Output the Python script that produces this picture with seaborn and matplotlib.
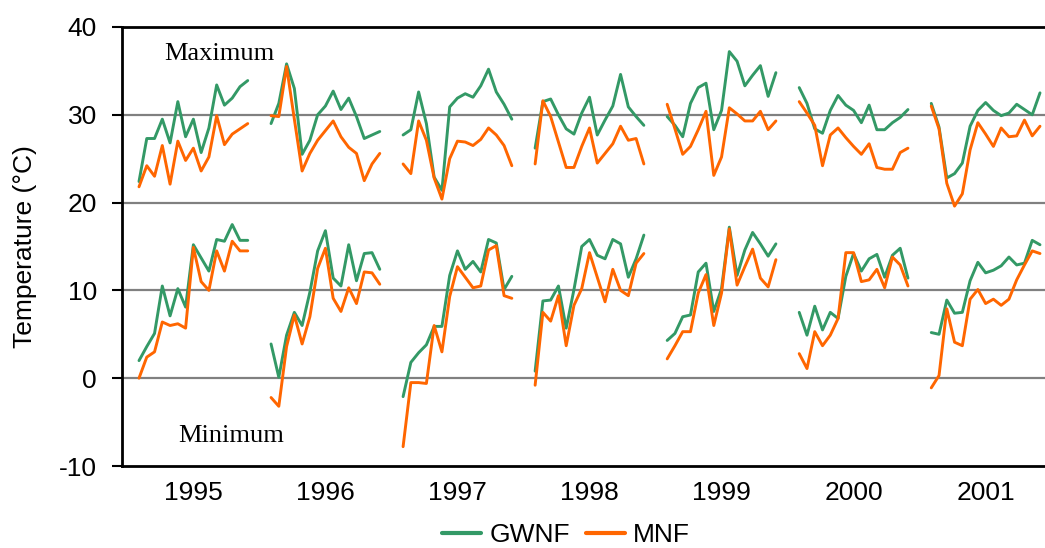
import numpy as np
import pandas as pd
import matplotlib
matplotlib.use("Agg")
import matplotlib.pyplot as plt
import seaborn as sns
from matplotlib.lines import Line2D

years = ["1995", "1996", "1997", "1998", "1999", "2000", "2001"]
sites = ["GWNF", "MNF"]

gwnf_max = [
    [22.4, 27.3, 27.3, 29.5, 26.8, 31.5, 27.5, 29.5, 25.7, 28.5, 33.4, 31.1, 31.9, 33.2, 33.9],
    [29.0, 31.3, 35.8, 33.0, 25.5, 27.1, 30.0, 31.0, 32.7, 30.6, 31.9, 29.8, 27.3, 27.7, 28.1],
    [27.7, 28.3, 32.6, 29.0, 22.9, 21.4, 30.9, 31.9, 32.4, 32.0, 33.3, 35.2, 32.6, 31.2, 29.5],
    [26.2, 31.5, 31.8, 30.0, 28.4, 27.8, 30.2, 32.0, 27.7, 29.4, 31.0, 34.6, 30.9, 29.8, 28.8],
    [29.8, 28.8, 27.5, 31.3, 33.1, 33.6, 28.3, 30.5, 37.2, 36.1, 33.3, 34.5, 35.6, 32.1, 34.8],
    [33.1, 31.3, 28.4, 27.9, 30.5, 32.2, 31.1, 30.5, 29.1, 31.1, 28.3, 28.3, 29.1, 29.7, 30.6],
    [31.3, 28.6, 22.8, 23.3, 24.5, 28.7, 30.5, 31.4, 30.5, 29.9, 30.2, 31.2, 30.6, 30.0, 32.5],
]
mnf_max = [
    [21.8, 24.2, 23.0, 26.5, 22.1, 27.0, 24.8, 26.2, 23.6, 25.2, 29.9, 26.6, 27.8, 28.4, 29.0],
    [29.9, 29.8, 35.5, 29.5, 23.6, 25.6, 27.1, 28.2, 29.3, 27.5, 26.3, 25.6, 22.5, 24.4, 25.6],
    [24.4, 23.3, 29.3, 27.1, 22.8, 20.4, 25.0, 27.0, 26.9, 26.5, 27.2, 28.5, 27.7, 26.5, 24.2],
    [24.4, 31.6, 29.8, 26.9, 24.0, 24.0, 26.4, 28.5, 24.5, 25.6, 26.7, 28.7, 27.1, 27.3, 24.4],
    [31.2, 28.4, 25.5, 26.4, 28.3, 30.4, 23.1, 25.2, 30.8, 30.1, 29.3, 29.3, 30.4, 28.3, 29.3],
    [31.5, 30.2, 28.8, 24.2, 27.7, 28.5, 27.4, 26.4, 25.5, 26.7, 24.0, 23.8, 23.8, 25.7, 26.2],
    [31.0, 28.4, 22.2, 19.6, 21.0, 26.0, 29.1, 27.8, 26.4, 28.5, 27.5, 27.6, 29.4, 27.6, 28.7],
]
gwnf_min = [
    [2.0, 3.6, 5.1, 10.5, 7.1, 10.2, 8.1, 15.2, 13.7, 12.2, 15.8, 15.6, 17.5, 15.7, 15.7],
    [3.9, 0.1, 4.9, 7.5, 6.0, 9.8, 14.5, 16.8, 11.4, 10.5, 15.2, 11.1, 14.2, 14.3, 12.4],
    [-2.1, 1.8, 2.9, 3.8, 5.9, 5.9, 11.7, 14.5, 12.4, 13.3, 12.1, 15.8, 15.4, 10.1, 11.6],
    [0.8, 8.8, 8.9, 10.5, 5.7, 10.1, 15.0, 15.8, 14.0, 13.6, 15.8, 15.3, 11.5, 13.6, 16.3],
    [4.3, 5.1, 7.0, 7.2, 12.1, 13.1, 7.6, 10.2, 17.2, 11.7, 14.6, 16.6, 15.3, 13.9, 15.3],
    [7.5, 4.9, 8.2, 5.5, 7.5, 6.8, 11.6, 14.2, 12.2, 13.6, 14.1, 11.5, 14.0, 14.8, 11.4],
    [5.2, 5.0, 8.9, 7.4, 7.5, 11.1, 13.2, 12.0, 12.3, 12.8, 13.8, 12.9, 13.1, 15.7, 15.2],
]
mnf_min = [
    [0.0, 2.4, 3.0, 6.4, 6.0, 6.2, 5.7, 14.9, 11.0, 10.0, 14.5, 12.2, 15.6, 14.5, 14.5],
    [-2.2, -3.2, 3.6, 7.2, 3.9, 7.0, 12.5, 14.8, 9.1, 7.6, 10.3, 8.5, 12.1, 12.0, 10.7],
    [-7.8, -0.5, -0.5, -0.6, 6.0, 3.0, 9.3, 12.7, 11.5, 10.3, 10.5, 14.6, 15.1, 9.4, 9.1],
    [-0.8, 7.5, 6.5, 9.4, 3.7, 8.3, 10.2, 14.3, 11.5, 8.7, 12.4, 10.0, 9.4, 13.1, 14.2],
    [2.2, 3.7, 5.3, 5.3, 9.7, 11.8, 6.0, 9.7, 17.0, 10.6, 12.7, 14.7, 11.4, 10.4, 13.5],
    [2.8, 1.1, 5.3, 3.7, 4.9, 6.8, 14.3, 14.3, 11.0, 11.2, 12.4, 10.3, 13.8, 12.9, 10.5],
    [-1.1, 0.3, 7.9, 4.1, 3.7, 9.0, 10.1, 8.5, 9.0, 8.3, 9.0, 11.2, 12.9, 14.5, 14.2],
]
y_ticks = [-10, 0, 10, 20, 30, 40]

SLOT = 17  # 15 observations + 2 empty positions per year

rows = []
series = {("GWNF", "max"): gwnf_max, ("MNF", "max"): mnf_max,
          ("GWNF", "min"): gwnf_min, ("MNF", "min"): mnf_min}
for (site, kind), data in series.items():
    for yi, vals in enumerate(data):
        for j, v in enumerate(vals):
            rows.append({"pos": yi * SLOT + j, "temp": v, "site": site,
                         "seg": f"{years[yi]}-{kind}"})
df = pd.DataFrame(rows)

sns.set_theme(style="white")
plt.rcParams["font.family"] = ["Liberation Sans", "DejaVu Sans"]
for key in ["text.color", "axes.labelcolor", "xtick.color", "ytick.color"]:
    plt.rcParams[key] = "black"

colors = {"GWNF": "#339966", "MNF": "#FF6600"}
FS = 19

fig = plt.figure(figsize=(10.45, 5.48), dpi=100)
ax = fig.add_axes([122 / 1045, 1 - 466 / 548, (1045 - 122) / 1045, (466 - 27) / 548])

sns.lineplot(data=df, x="pos", y="temp", hue="site", hue_order=sites,
             units="seg", estimator=None, palette=colors, linewidth=2.1,
             legend=False, ax=ax, sort=True)

for v in [0, 10, 20, 30]:
    ax.axhline(v, color="#808080", linewidth=1.6, zorder=0)

ax.set_ylim(-10, 40)
ax.set_xlim(-17 / 7.767, 116 + 5 / 7.767)
ax.set_yticks(y_ticks)
ax.set_yticklabels([str(t) for t in y_ticks], fontsize=FS)
ax.set_xticks([i * SLOT + 7 for i in range(len(years))])
ax.set_xticklabels(years, fontsize=FS)
ax.tick_params(axis="x", length=0, pad=11)
ax.tick_params(axis="y", length=7, width=1.5, direction="out", pad=11, color="black", left=True)
ax.set_xlabel("")
ax.set_ylabel("Temperature (\u00b0C)", fontsize=FS, labelpad=16)

for side in ["left", "bottom", "top"]:
    ax.spines[side].set_visible(True)
    ax.spines[side].set_color("black")
    ax.spines[side].set_linewidth(2.0)
ax.spines["right"].set_visible(False)

ax.text(3.3, 36.9, "Maximum", fontsize=FS, family=["Liberation Serif", "DejaVu Serif"],
        va="center", ha="left")
ax.text(5.0, -6.6, "Minimum", fontsize=FS, family=["Liberation Serif", "DejaVu Serif"],
        va="center", ha="left")

handles = [Line2D([0], [0], color=colors[s], linewidth=3) for s in sites]
fig.legend(handles, sites, loc="center", bbox_to_anchor=(566 / 1045, 1 - 535 / 548),
           ncol=2, frameon=False, fontsize=FS, handlelength=1.5,
           handletextpad=0.3, columnspacing=0.6)

fig.savefig("out.png", dpi=100)
